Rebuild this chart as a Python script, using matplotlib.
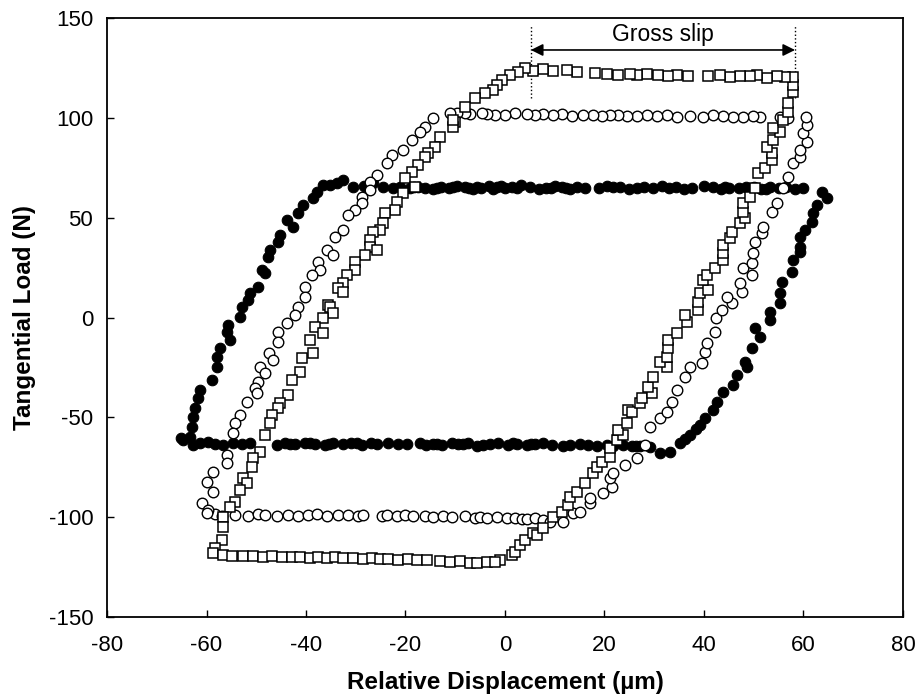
import matplotlib
matplotlib.use("Agg")
import matplotlib.pyplot as plt

plt.rcParams["font.family"] = ["Liberation Sans", "DejaVu Sans"]
plt.rcParams["axes.unicode_minus"] = False

# filled circles: smallest load amplitude loop (~ +/-65 N)
disp_a = [
    # right branch, bottom to top
    31.2, 33.2, 35.2, 36.2, 37.2, 38.3, 39.2, 40.2, 41.8, 42.6, 43.8, 45.8, 46.6, 48.6, 48.2,
    49.6, 51.3, 50.3, 53.3, 53.3, 55.3, 55.3, 55.7, 57.7, 57.9, 59.3, 59.3, 59.3, 60.3,
    61.7, 61.9, 62.7, 64.7, 63.7,
    # top plateau, right to left
    60.0, 58.3, 56.5, 55.0, 53.2, 51.5, 50.0, 48.5, 47.0, 45.0, 43.5, 41.8, 40.0, 37.5,
    36.0, 34.3, 31.5, 29.8, 28.0, 26.5, 25.0, 23.2, 20.5, 18.8, 16.0, 14.5, 13.0, 11.5,
    10.0, 8.3, 6.8, 5.0, 3.2, 1.5, 0.0, -1.6, -3.2, -4.8, -6.4, -8.0, -9.6, -11.2, -12.8,
    -14.4, -16.0, -17.5, -19.0, -21.1, -22.5, -24.5, -26.5, -28.3, -30.6,
    2.4, -0.8, -2.4, -5.6, -7.2, -10.4, -13.6, -18.2, 9.2, 12.2, 21.8, 33.0, 44.2, 52.4,
    # left branch, top to bottom
    -32.6, -33.8, -35.2, -36.6, -37.8, -38.6, -40.6, -41.6, -43.8, -42.6, -45.2, -45.6,
    -47.2, -47.6, -48.8, -48.2, -49.6, -51.3, -51.7, -52.9, -53.3, -55.7, -55.9, -55.3,
    -57.3, -57.9, -57.9, -58.9, -61.3, -61.7, -62.3, -62.7, -62.9, -63.3, -64.7, -65.2,
    # bottom plateau, left to right
    -62.7, -61.3, -59.7, -58.2, -56.7, -54.7, -52.9, -51.3, -45.8, -44.2, -42.2, -40.2,
    -38.2, -36.2, -34.6, -32.6, -29.7, -28.7, -25.7, -23.5, -21.5, -19.7, -17.1, -14.5,
    -12.7, -10.7, -9.4, -7.4, -5.6, -3.0, -1.4, 0.6, 2.4, 4.4, 6.0, 7.6, 9.4, 11.7, 15.1,
    16.7, 18.5, 20.5, 21.7, 23.7, 25.5, 27.1, 29.1,
    -43.2, -39.2, -35.4, -31.0, -27.0, -15.8, -13.6, -8.4, -4.4, 1.6, 5.2, 13.0, 26.3,
]
load_a = [
    -67.8, -67.3, -62.8, -61.0, -58.8, -56.0, -53.8, -50.3, -46.3, -42.3, -37.3, -33.8, -28.8, -24.8, -22.3,
    -15.2, -9.7, -5.2, -1.2, 2.8, 7.3, 12.3, 17.8, 22.8, 28.8, 32.8, 35.3, 40.4, 43.8,
    47.8, 52.4, 56.4, 59.9, 62.9,
    65.0, 64.5, 65.5, 64.8, 65.2, 64.6, 65.3, 65.6, 64.7, 65.0, 64.5, 65.4, 65.8, 65.0,
    64.6, 65.2, 65.7, 64.9, 65.3, 65.0, 64.4, 65.2, 66.0, 65.1, 64.8, 65.5, 64.6, 65.2,
    65.8, 65.0, 64.4, 65.3, 66.2, 65.5, 64.8, 65.4, 65.9, 65.1, 64.5, 65.2, 65.7, 64.8, 65.3,
    64.6, 65.0, 65.6, 64.9, 65.4, 64.9, 65.4, 67.4, 66.0, 65.4,
    64.7, 65.8, 64.6, 65.5, 64.9, 65.2, 64.8, 65.4, 65.0, 64.7, 65.5, 64.8, 65.3, 64.6,
    68.9, 67.4, 66.4, 66.4, 62.9, 59.9, 56.4, 52.4, 48.9, 45.3, 41.3, 37.8,
    33.8, 30.3, 23.8, 22.3, 15.3, 12.3, 8.8, 5.3, 0.3, -3.7, -7.2, -11.2,
    -15.2, -19.8, -24.8, -31.3, -36.3, -40.3, -45.3, -49.8, -54.8, -59.8, -61.3, -60.5,
    -63.8, -62.8, -62.5, -63.4, -63.8, -63.0, -63.5, -62.8, -63.6, -63.0, -63.4, -62.6,
    -63.2, -63.7, -62.9, -63.4, -63.0, -63.6, -63.2, -62.8, -63.5, -63.1, -62.6, -63.3,
    -63.8, -63.0, -63.4, -62.7, -64.2, -63.5, -63.0, -63.6, -63.2, -63.9, -63.4, -63.0, -63.7, -64.2, -63.5,
    -63.9, -64.3, -63.6, -64.4, -64.0, -64.6, -64.2, -64.8,
    -63.2, -62.8, -63.5, -63.0, -62.9, -63.6, -63.1, -63.4, -63.8, -63.0, -63.5, -63.7, -64.5,
]

# open circles: intermediate loop (~ +/-100 N)
disp_b = [
    # bottom plateau, left to right
    -58.3, -56.9, -54.3, -51.7, -49.6, -48.2, -45.8, -43.6, -41.6, -39.6, -37.8, -35.8,
    -33.6, -31.6, -29.5, -28.5, -24.7, -23.7, -21.7, -20.1, -18.5, -16.1, -14.5, -12.5,
    -10.7, -8.0, -6.0, -5.0, -3.6, -1.6, 0.4, 2.0, 3.4, 4.4, 6.0, 7.6,
    # right branch, bottom to top
    9.0, 11.7, 13.7, 15.1, 17.1, 17.1, 19.7, 21.5, 21.1, 21.7, 24.1, 26.5, 28.1, 29.1,
    31.2, 32.6, 33.6, 34.6, 36.2, 37.2, 39.6, 40.2, 40.6, 42.2, 42.4, 43.6, 45.6, 44.6,
    47.6, 47.2, 49.6, 47.8, 49.6, 49.8, 50.3, 51.7, 51.9, 53.7, 54.7, 55.9, 56.9, 57.9,
    59.3, 59.3, 60.7, 59.9, 60.7, 60.5,
    # top plateau, right to left
    56.9, 55.3, 51.3, 49.8, 47.8, 45.8, 43.8, 41.8, 39.8, 37.2, 34.6, 32.6, 30.5, 28.5,
    26.5, 24.5, 22.7, 21.1, 19.5, 17.7, 15.7, 13.5, 11.5, 9.6, 7.6, 6.0, 4.4, 2.0, 0.0,
    -2.0, -3.6, -4.6, -7.0, -8.0, -9.6, -11.1,
    # left branch, top to bottom
    -14.5, -16.1, -17.1, -18.7, -20.5, -22.7, -23.7, -25.7, -27.1, -27.1, -28.7, -28.7,
    -30.2, -31.6, -32.6, -34.2, -35.8, -34.6, -37.6, -37.2, -38.8, -40.2, -40.2, -41.6,
    -42.2, -43.8, -45.6, -45.6, -47.4, -46.6, -49.2, -48.2, -49.6, -50.3, -49.8, -51.9,
    -53.3, -54.3, -54.7, -55.9, -55.9, -58.7, -59.9, -58.7, -60.9, -59.7, -59.9,
]
load_b = [
    -98.5, -99.2, -98.8, -99.4, -98.6, -99.0, -99.5, -98.8, -99.2, -99.0, -98.6, -99.3,
    -99.0, -98.8, -99.4, -99.0, -99.6, -98.9, -99.3, -99.0, -99.5, -99.2, -99.7, -99.4,
    -100.0, -99.6, -100.2, -99.8, -100.3, -100.0, -100.5, -100.2, -100.8, -101.0, -100.6, -101.2,
    -102.4, -102.4, -97.9, -97.4, -92.9, -90.4, -87.9, -84.8, -80.3, -77.9, -73.8, -70.3, -63.8, -54.8,
    -50.3, -47.3, -42.3, -36.3, -29.8, -24.8, -22.8, -17.3, -12.7, -7.2, -0.2, 3.8, 7.3, 10.3,
    12.8, 17.3, 21.3, 24.8, 27.3, 32.3, 37.8, 42.3, 45.3, 52.9, 57.4, 64.9, 70.4, 77.4,
    80.4, 83.9, 87.9, 92.4, 96.4, 100.4,
    99.9, 100.4, 100.5, 101.0, 100.6, 100.2, 100.8, 101.2, 100.5, 101.0, 100.6, 101.3, 100.8, 101.4,
    101.0, 100.7, 101.5, 101.2, 100.8, 101.6, 101.3, 100.9, 101.8, 101.4, 102.0, 101.2, 101.7, 102.2, 101.6,
    101.3, 102.0, 102.4, 101.8, 102.5, 102.2, 102.4,
    99.9, 95.4, 92.9, 88.9, 83.9, 81.4, 77.4, 71.4, 67.9, 63.9, 60.4, 57.4,
    53.9, 51.4, 43.9, 40.4, 33.8, 31.3, 27.8, 23.8, 21.3, 15.3, 10.3, 5.3,
    1.3, -2.7, -7.2, -12.2, -17.8, -21.3, -24.8, -27.8, -32.3, -35.3, -37.8, -42.3,
    -48.8, -52.8, -57.8, -68.8, -72.8, -77.3, -82.3, -87.3, -92.9, -96.4, -97.9,
]

# open squares: largest loop (~ +/-120 N)
disp_c = [
    # right branch, bottom to top
    -1.0, 1.4, 2.0, 3.0, 4.0, 5.6, 6.4, 7.6, 9.6, 11.5, 12.7, 13.1, 14.5, 16.1, 17.7,
    18.5, 19.5, 21.1, 21.1, 22.5, 23.7, 22.7, 24.5, 24.7, 25.5, 27.1, 27.5, 29.5, 28.7,
    29.7, 32.6, 31.2, 32.6, 32.8, 32.8, 34.6, 36.6, 36.2, 38.8, 38.8, 39.2, 40.8, 39.8,
    40.6, 42.2, 43.8, 43.8, 43.8, 45.2, 45.6, 47.2, 48.2, 47.8, 47.8, 49.2, 50.3, 50.9,
    52.3, 53.7, 53.7, 52.7, 53.9, 55.3, 53.9, 55.8, 56.9, 56.9, 57.9, 57.9, 57.9,
    # top plateau, right to left
    56.3, 54.7, 52.7, 50.6, 49.2, 47.2, 45.2, 43.2, 40.8, 36.8, 34.6, 32.8, 30.8, 28.5,
    26.5, 25.1, 22.7, 20.5, 18.1, 14.5, 12.5, 9.6, 7.6, 5.6, 4.0,
    # left branch, top to bottom
    2.6, 1.0, -0.6, -1.6, -2.4, -4.0, -6.0, -8.0, -10.1, -10.5, -10.5, -13.1, -14.1,
    -15.5, -16.1, -17.5, -18.7, -20.1, -18.1, -20.5, -21.7, -22.1, -24.1, -24.5, -25.1,
    -26.5, -27.1, -27.1, -25.7, -28.1, -30.2, -30.2, -31.8, -32.6, -33.6, -32.6, -35.6,
    -35.2, -34.6, -36.6, -38.2, -36.6, -39.2, -38.6, -40.8, -41.2, -42.8, -43.6, -45.2,
    -45.6, -46.8, -47.2, -48.2, -49.2, -50.7, -50.9, -52.7, -51.9, -53.3, -54.3, -55.3,
    -56.7, -56.7, -56.9, -58.3, -58.7,
    # bottom plateau, left to right
    -56.7, -54.9, -52.7, -50.7, -48.6, -46.8, -44.8, -42.8, -41.2, -39.2, -37.6, -35.8,
    -34.2, -32.6, -30.6, -28.5, -26.7, -25.1, -23.5, -21.5, -19.5, -17.7, -15.7, -13.1,
    -11.1, -9.0, -7.0, -5.6, -3.6, -2.0,
]
load_c = [
    -121.4, -118.9, -117.4, -113.9, -111.4, -107.9, -108.9, -105.4, -99.9, -97.4, -93.9, -89.8, -87.3, -82.8, -77.8,
    -74.8, -72.3, -69.8, -65.3, -61.3, -58.8, -56.3, -52.8, -46.3, -47.3, -42.8, -40.3, -37.8, -34.8,
    -29.8, -24.8, -22.3, -19.8, -15.2, -11.2, -7.7, -2.2, 1.3, 3.8, 7.8, 12.3, 13.8, 18.8,
    21.3, 24.8, 28.8, 32.3, 36.3, 39.8, 42.8, 47.3, 49.9, 52.9, 57.4, 60.4, 64.9, 72.4,
    74.9, 78.9, 82.4, 85.4, 88.9, 92.9, 94.9, 99.0, 103.0, 107.4, 113.0, 116.4, 120.5,
    120.5, 121.0, 120.2, 121.3, 120.8, 121.0, 120.5, 121.4, 120.8, 121.2, 121.6, 120.9, 121.5, 121.8,
    121.3, 122.0, 121.6, 122.2, 122.5, 123.0, 124.0, 123.5, 124.5, 123.5, 125.0,
    123.0, 121.4, 118.9, 116.4, 113.9, 112.4, 109.9, 105.4, 97.9, 95.4, 99.0, 90.4, 85.4,
    82.4, 80.4, 76.4, 72.9, 69.9, 65.4, 62.4, 57.9, 53.9, 52.4, 47.3, 43.8,
    42.8, 38.8, 35.3, 33.8, 31.3, 27.8, 23.8, 21.3, 17.3, 14.8, 12.8, 6.3,
    5.3, 2.3, -0.2, -4.7, -7.7, -11.2, -17.8, -20.3, -27.3, -31.3, -38.8, -42.8,
    -45.3, -48.8, -52.8, -58.8, -67.3, -70.3, -74.8, -80.3, -82.8, -86.4, -92.4, -94.9,
    -99.9, -104.9, -111.4, -115.4, -118.0,
    -119.0, -119.5, -119.2, -119.6, -119.8, -119.4, -119.9, -120.1, -119.7, -120.2, -120.0, -120.4,
    -120.1, -120.6, -120.3, -120.8, -120.5, -121.0, -120.7, -121.2, -121.0, -121.5, -121.2, -121.8,
    -122.4, -122.0, -122.8, -123.0, -122.5, -122.2,
]

slip_start = 5.2
slip_end = 58.3

fig, ax = plt.subplots(figsize=(9.17, 6.99), dpi=100)
fig.subplots_adjust(left=0.1167, right=0.9847, bottom=0.1173, top=0.9742)

ax.plot(disp_a, load_a, "o", ms=7.6, mfc="black", mec="black", mew=0.8, zorder=3)
ax.plot(disp_b, load_b, "o", ms=7.6, mfc="white", mec="black", mew=1.0, zorder=4)
ax.plot(disp_c, load_c, "s", ms=7.5, mfc="white", mec="black", mew=1.1, zorder=5)

# gross slip marker
ax.plot([slip_start, slip_start], [110, 146], ls=":", color="black", lw=1.0, zorder=2)
ax.plot([slip_end, slip_end], [110, 146], ls=":", color="black", lw=1.0, zorder=2)
ax.annotate("", xy=(slip_start, 134), xytext=(slip_end, 134),
            arrowprops=dict(arrowstyle="<|-|>", color="black", lw=1.2,
                            mutation_scale=18, shrinkA=0, shrinkB=0))
ax.text((slip_start + slip_end) / 2, 136, "Gross slip", ha="center", va="bottom",
        fontsize=16.5)

ax.set_xlim(-80, 80)
ax.set_ylim(-150, 150)
ax.set_xticks(range(-80, 81, 20))
ax.set_yticks(range(-150, 151, 50))
ax.tick_params(direction="in", length=5, width=1, labelsize=16, top=False, right=False)
ax.tick_params(axis="x", pad=13)
ax.tick_params(axis="y", pad=10)
for sp in ax.spines.values():
    sp.set_linewidth(1.3)

ax.set_xlabel("Relative Displacement (\u00b5m)", fontsize=17.5, fontweight="bold", labelpad=11)
ax.set_ylabel("Tangential Load (N)", fontsize=17.5, fontweight="bold", labelpad=9)

fig.savefig("out.png", dpi=100)
